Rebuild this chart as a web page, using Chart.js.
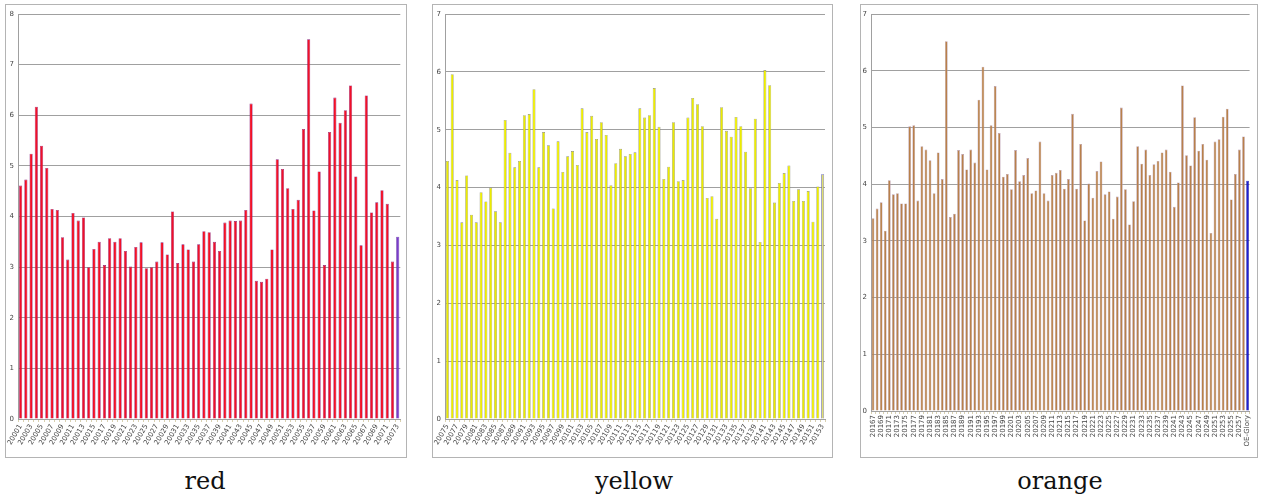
<!DOCTYPE html>
<html>
<head>
<meta charset="utf-8">
<script src="https://cdn.jsdelivr.net/npm/chart.js@4"></script>
<style>
    body { margin: 0; background: #fff; width: 1263px; height: 496px; position: relative; overflow: hidden; }
    .panel { position: absolute; top: 4px; height: 452px; border: 1px solid #b4b4b4; background: #fff; }
    .panel canvas { display: block; }
    .caption { position: absolute; top: 469px; width: 200px; text-align: center; font-family: 'DejaVu Serif', serif; font-size: 24px; line-height: 24px; color: #111; }
</style>
</head>
<body>
<div class="panel" style="left:5px;width:400px;"><canvas id="redChart" width="400" height="452"></canvas></div>
<div class="panel" style="left:432px;width:399px;"><canvas id="yellowChart" width="399" height="452"></canvas></div>
<div class="panel" style="left:860px;width:396px;"><canvas id="orangeChart" width="396" height="452"></canvas></div>
<div class="caption" style="left:105px;">red</div>
<div class="caption" style="left:534px;">yellow</div>
<div class="caption" style="left:960px;">orange</div>
<script>
function range(start, end) {
    const out = [];
    for (let i = start; i <= end; i++) out.push(String(i));
    return out;
}

const redLabels = range(20001, 20073);
const redValues = [4.61, 4.73, 5.24, 6.17, 5.40, 4.96, 4.15, 4.13, 3.59, 3.15,
    4.07, 3.92, 3.98, 3.00, 3.36, 3.50, 3.04, 3.57, 3.50, 3.57,
    3.32, 3.01, 3.40, 3.49, 2.98, 3.00, 3.11, 3.49, 3.25, 4.10,
    3.08, 3.45, 3.35, 3.11, 3.45, 3.71, 3.69, 3.50, 3.32, 3.88,
    3.92, 3.91, 3.92, 4.13, 6.23, 2.73, 2.71, 2.77, 3.35, 5.13,
    4.94, 4.56, 4.15, 4.33, 5.73, 7.50, 4.12, 4.89, 3.04, 5.67,
    6.35, 5.85, 6.10, 6.59, 4.79, 3.43, 6.39, 4.08, 4.28, 4.52,
    4.25, 3.11, 3.60];

const yellowLabels = range(20075, 20153);
const yellowValues = [4.46, 5.96, 4.13, 3.40, 4.21, 3.53, 3.40, 3.92, 3.76, 4.00,
    3.59, 3.40, 5.17, 4.60, 4.35, 4.46, 5.25, 5.27, 5.70, 4.35,
    4.96, 4.73, 3.64, 4.80, 4.27, 4.54, 4.63, 4.39, 5.37, 4.96,
    5.24, 4.84, 5.13, 4.91, 4.04, 4.42, 4.67, 4.54, 4.58, 4.61,
    5.37, 5.21, 5.25, 5.72, 5.05, 4.15, 4.36, 5.13, 4.11, 4.13,
    5.21, 5.55, 5.44, 5.06, 3.82, 3.85, 3.46, 5.39, 4.98, 4.88,
    5.22, 5.06, 4.62, 3.99, 5.19, 3.06, 6.03, 5.77, 3.74, 4.08,
    4.25, 4.38, 3.77, 3.97, 3.77, 3.94, 3.41, 4.02, 4.23];

const orangeLabels = range(20167, 20258).concat(['OE-Glory']);
const orangeValues = [3.40, 3.57, 3.68, 3.18, 4.07, 3.82, 3.84, 3.66, 3.66, 5.02,
    5.04, 3.71, 4.67, 4.61, 4.42, 3.84, 4.56, 4.09, 6.52, 3.42,
    3.48, 4.60, 4.53, 4.26, 4.61, 4.38, 5.49, 6.07, 4.26, 5.04,
    5.73, 4.90, 4.13, 4.18, 3.91, 4.60, 4.05, 4.16, 4.46, 3.84,
    3.89, 4.75, 3.84, 3.71, 4.16, 4.20, 4.25, 3.92, 4.09, 5.24,
    3.92, 4.71, 3.36, 4.01, 3.76, 4.23, 4.40, 3.82, 3.87, 3.39,
    3.78, 5.35, 3.91, 3.29, 3.70, 4.67, 4.36, 4.61, 4.16, 4.35,
    4.41, 4.56, 4.61, 4.22, 3.60, 4.03, 5.74, 4.51, 4.33, 5.18,
    4.59, 4.71, 4.43, 3.14, 4.75, 4.79, 5.19, 5.33, 3.73, 4.18,
    4.61, 4.84, 4.06];

// one colour for all bars, another for the last one
function barColors(count, normal, last) {
    const colors = [];
    for (let i = 0; i < count; i++) {
        colors.push(i === count - 1 ? last : normal);
    }
    return colors;
}

function makeChart(id, labels, values, cfg) {
    new Chart(document.getElementById(id), {
        type: 'bar',
        data: {
            labels: labels,
            datasets: [{
                data: values,
                backgroundColor: barColors(values.length, cfg.fill, cfg.lastFill),
                borderColor: barColors(values.length, cfg.border, cfg.lastBorder),
                borderWidth: 0.6,
                barPercentage: cfg.barPct,
                categoryPercentage: 1
            }]
        },
        options: {
            responsive: false,
            animation: false,
            layout: {
                autoPadding: false,
                padding: { left: 0, top: 9, right: cfg.padRight, bottom: 0 }
            },
            plugins: {
                legend: { display: false },
                tooltip: { enabled: false }
            },
            scales: {
                x: {
                    grid: { drawOnChartArea: false, drawTicks: true, tickLength: 3, color: '#d8d0b0' },
                    border: { color: '#a0a0a0' },
                    ticks: {
                        autoSkip: false,
                        maxRotation: cfg.rotation,
                        minRotation: cfg.rotation,
                        padding: 1,
                        color: '#444',
                        font: { family: 'DejaVu Sans', size: 7 },
                        callback: function (val, i) {
                            return i % 2 === 0 ? this.getLabelForValue(val) : '';
                        }
                    },
                    afterFit: function (scale) { scale.height = cfg.xHeight; }
                },
                y: {
                    min: 0,
                    max: cfg.yMax,
                    grid: { color: '#a0a0a0', drawTicks: false },
                    border: { color: '#a0a0a0' },
                    ticks: {
                        stepSize: 1,
                        padding: 4,
                        color: '#444',
                        font: { family: 'DejaVu Sans', size: 7 }
                    },
                    afterFit: function (scale) { scale.width = cfg.yWidth; }
                }
            }
        }
    });
}

makeChart('redChart', redLabels, redValues, {
    fill: '#f01028', border: '#8a2078', lastFill: '#7a3cc8', lastBorder: '#5a2a9a',
    barPct: 0.6, rotation: 60, yMax: 8, yWidth: 12, xHeight: 38, padRight: 3
});
makeChart('yellowChart', yellowLabels, yellowValues, {
    fill: '#ecec00', border: '#8c8c78', lastFill: '#e0e070', lastBorder: '#3030c0',
    barPct: 0.62, rotation: 60, yMax: 7, yWidth: 12, xHeight: 38, padRight: 7
});
makeChart('orangeChart', orangeLabels, orangeValues, {
    fill: '#b8804a', border: '#b89cb0', lastFill: '#2020d0', lastBorder: '#1010a0',
    barPct: 0.68, rotation: 90, yMax: 7, yWidth: 10, xHeight: 46, padRight: 6
});
</script>
</body>
</html>
